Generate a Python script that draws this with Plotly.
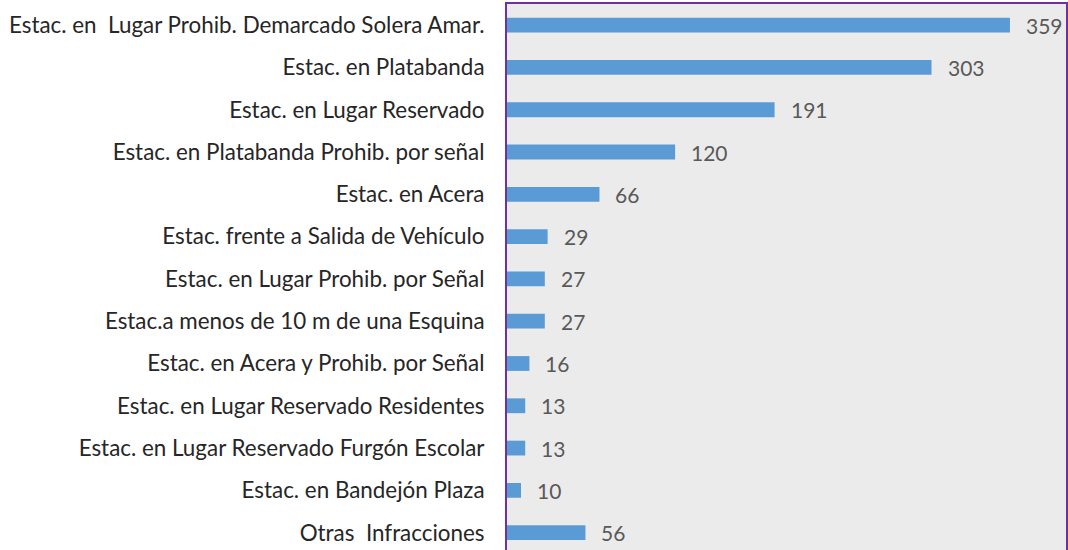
import plotly.graph_objects as go

categorias = [
    "Estac. en  Lugar Prohib. Demarcado Solera Amar.",
    "Estac. en Platabanda",
    "Estac. en Lugar Reservado",
    "Estac. en Platabanda Prohib. por señal",
    "Estac. en Acera",
    "Estac. frente a Salida de Vehículo",
    "Estac. en Lugar Prohib. por Señal",
    "Estac.a menos de 10 m de una Esquina",
    "Estac. en Acera y Prohib. por Señal",
    "Estac. en Lugar Reservado Residentes",
    "Estac. en Lugar Reservado Furgón Escolar",
    "Estac. en Bandejón Plaza",
    "Otras  Infracciones",
]
infracciones = [359, 303, 191, 120, 66, 29, 27, 27, 16, 13, 13, 10, 56]

BAR_COLOR = "#5b9bd5"
FRAME_COLOR = "#7030a0"
LABEL_FONT = "Lato"

fig = go.Figure(
    go.Bar(
        x=infracciones,
        y=categorias,
        orientation="h",
        marker=dict(color=BAR_COLOR, line=dict(width=0)),
        width=0.35,
        hoverinfo="x+y",
    )
)

# value labels just past the end of each bar
for cat, val in zip(categorias, infracciones):
    fig.add_annotation(
        x=val, y=cat, text=str(val), showarrow=False,
        xanchor="left", xshift=14,
        font=dict(family=LABEL_FONT, size=21, color="#595959"),
    )

fig.update_layout(
    width=1068, height=550,
    margin=dict(l=507, r=2, t=4, b=0),
    paper_bgcolor="white",
    plot_bgcolor="#ebebeb",
    showlegend=False,
    bargap=0.65,
    xaxis=dict(
        range=[0, 399], side="top", showgrid=False, zeroline=False,
        showticklabels=False, ticks="",
        showline=True, linecolor=FRAME_COLOR, linewidth=2,
    ),
    yaxis=dict(
        type="category", range=[12.41, -0.5],
        showgrid=False, zeroline=False,
        showline=True, mirror=True, linecolor=FRAME_COLOR, linewidth=2,
        ticks="outside", ticklen=16, tickcolor="rgba(0,0,0,0)",
        tickfont=dict(family=LABEL_FONT, size=22.4, color="#262626"),
    ),
)

fig.write_html("out.html")
